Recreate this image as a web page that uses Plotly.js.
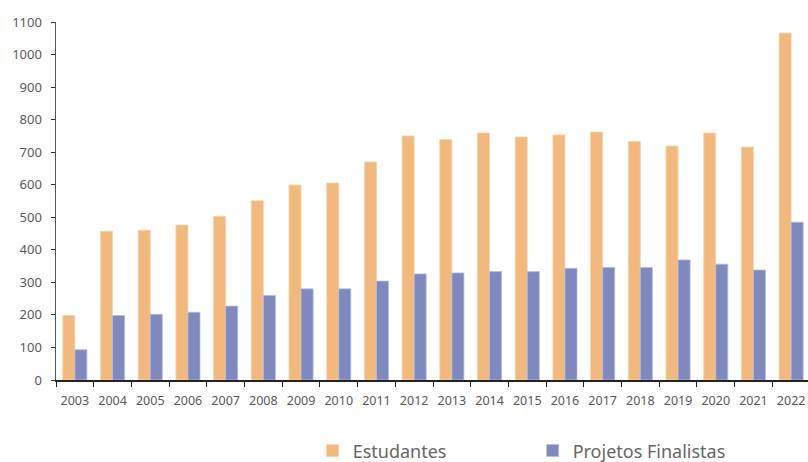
<!DOCTYPE html>
<html>
<head>
<meta charset="utf-8">
<script src="https://cdn.plot.ly/plotly-3.0.1.min.js"></script>
<style>
html,body{margin:0;padding:0;overflow:hidden;background:#fff;}
#chart{width:810px;height:462px;}
</style>
</head>
<body>
<div id="chart"></div>
<script>
var years = ["2003","2004","2005","2006","2007","2008","2009","2010","2011","2012","2013","2014","2015","2016","2017","2018","2019","2020","2021","2022"];
var estudantes = [198,457,460,476,503,551,599,605,670,750,739,759,747,753,762,733,719,759,716,1066];
var projetos = [93,198,202,208,227,260,280,280,304,326,329,333,333,343,346,346,369,356,338,485];
var seriesNames = ["Estudantes","Projetos Finalistas"];
var yTicks = [0,100,200,300,400,500,600,700,800,900,1000,1100];

var traces = [
  {type:"bar", name:seriesNames[0], x:years, y:estudantes,
   marker:{color:"#F2B97F", line:{color:"#F7D3AE", width:0.8}}},
  {type:"bar", name:seriesNames[1], x:years, y:projetos,
   marker:{color:"#7F89BD", line:{color:"#B6BCDD", width:0.8}}}
];

var layout = {
  width:810, height:462,
  margin:{l:56, r:0, t:22, b:82},
  paper_bgcolor:"#fff", plot_bgcolor:"#fff",
  barmode:"group", bargap:0.36, bargroupgap:0,
  font:{family:"Noto Sans, sans-serif", color:"#595959", size:13},
  xaxis:{
    type:"category", showgrid:false, zeroline:false,
    showline:true, linecolor:"#222", linewidth:1.5,
    ticks:"outside", tickson:"boundaries", ticklen:5, tickcolor:"#222", tickwidth:1,
    tickangle:0, ticklabelstandoff:8,
    tickfont:{size:12.5, color:"#595959"},
    fixedrange:true
  },
  yaxis:{
    range:[0,1100], tickvals:yTicks, showgrid:false, zeroline:false,
    showline:true, linecolor:"#555", linewidth:1.5,
    ticks:"outside", ticklen:4, tickcolor:"#333", tickwidth:1,
    ticklabelstandoff:6,
    tickfont:{size:13, color:"#595959"},
    fixedrange:true
  },
  showlegend:true,
  legend:{
    orientation:"h", xref:"container", yref:"container",
    x:0.386, xanchor:"left", y:0.024, yanchor:"middle",
    font:{size:18, color:"#666"},
    entrywidth:175, entrywidthmode:"pixels",
    traceorder:"normal"
  }
};

Plotly.newPlot("chart", traces, layout, {displayModeBar:false, staticPlot:true});
</script>
</body>
</html>
